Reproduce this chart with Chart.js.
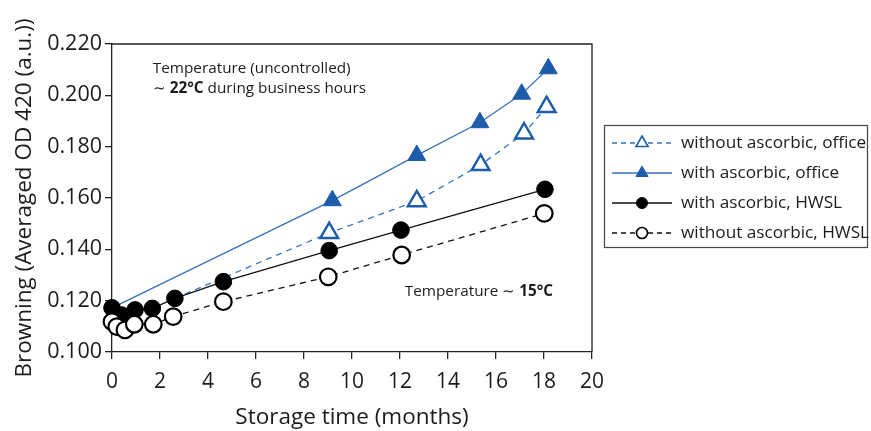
<!DOCTYPE html>
<html>
<head>
<meta charset="utf-8">
<script src="https://cdn.jsdelivr.net/npm/chart.js@4.4.1/dist/chart.umd.min.js"></script>
<style>
  html, body { margin: 0; padding: 0; background: #fff; }
  #wrap { width: 871px; height: 431px; position: relative; }
</style>
</head>
<body>
<div id="wrap"><canvas id="chart" width="871" height="431"></canvas></div>
<script>
// Browning of stored samples, averaged OD at 420 nm, over storage time
const FONT = '"Open Sans", "Noto Sans", sans-serif';
const TEXT = '#1c1c1c';
const BLUE_MARK = '#1d5ca9';
const BLUE_LINE = '#3472bd';

const seriesLabels = [
  'without ascorbic, office',
  'with ascorbic, office',
  'with ascorbic, HWSL',
  'without ascorbic, HWSL'
];

// office storage, no ascorbic (open triangles)
const officeWithoutMonths = [2.62, 9.05, 12.7, 15.36, 17.17, 18.11];
const officeWithoutOD     = [0.1209, 0.1464, 0.1588, 0.1729, 0.1852, 0.1955];

// office storage, with ascorbic (filled triangles)
const officeWithMonths = [0, 9.18, 12.7, 15.33, 17.07, 18.18];
const officeWithOD     = [0.1172, 0.1590, 0.1766, 0.1894, 0.2005, 0.2104];

// HWSL storage, with ascorbic (filled circles)
const hwslWithMonths = [0, 0.4, 0.96, 1.68, 2.62, 4.64, 9.05, 12.04, 18.04];
const hwslWithOD     = [0.1172, 0.1144, 0.1164, 0.1170, 0.1209, 0.1274, 0.1395, 0.1475, 0.1634];

// HWSL storage, no ascorbic (open circles)
const hwslWithoutMonths = [0, 0.2, 0.54, 0.93, 1.72, 2.55, 4.64, 9.01, 12.07, 18.01];
const hwslWithoutOD     = [0.1118, 0.1099, 0.1086, 0.1108, 0.1108, 0.1138, 0.1196, 0.1293, 0.1378, 0.1540];

const xTicks = [0, 2, 4, 6, 8, 10, 12, 14, 16, 18, 20];
const yTicks = [0.100, 0.120, 0.140, 0.160, 0.180, 0.200, 0.220];

const pairs = (xs, ys) => xs.map((x, i) => ({ x, y: ys[i] }));

// the first point of each office series only anchors its line
const hideFirst = (xs, r) => xs.map((_, i) => (i === 0 ? 0 : r));

const datasets = [
  {
    label: seriesLabels[3],
    data: pairs(hwslWithoutMonths, hwslWithoutOD),
    borderColor: '#111', borderWidth: 1.3, borderDash: [6, 5],
    pointStyle: 'circle', pointRadius: 8.3, pointBorderWidth: 2.2,
    pointBackgroundColor: '#fff', pointBorderColor: '#000',
    legendRadius: 5.5, order: 0
  },
  {
    label: seriesLabels[2],
    data: pairs(hwslWithMonths, hwslWithOD),
    borderColor: '#111', borderWidth: 1.3, borderDash: [],
    pointStyle: 'circle', pointRadius: 8.3, pointBorderWidth: 1,
    pointBackgroundColor: '#000', pointBorderColor: '#000',
    legendRadius: 5.5, order: 1
  },
  {
    label: seriesLabels[1],
    data: pairs(officeWithMonths, officeWithOD),
    borderColor: BLUE_LINE, borderWidth: 1.3, borderDash: [],
    pointStyle: 'triangle', pointRadius: hideFirst(officeWithMonths, 10.3), pointBorderWidth: 1,
    pointBackgroundColor: BLUE_MARK, pointBorderColor: BLUE_MARK,
    legendRadius: 7, order: 2
  },
  {
    label: seriesLabels[0],
    data: pairs(officeWithoutMonths, officeWithoutOD),
    borderColor: BLUE_LINE, borderWidth: 1.3, borderDash: [6, 5],
    pointStyle: 'triangle', pointRadius: hideFirst(officeWithoutMonths, 10.3), pointBorderWidth: 2.4,
    pointBackgroundColor: '#fff', pointBorderColor: BLUE_MARK,
    legendRadius: 7, order: 3
  }
];
datasets.forEach(d => { d.showLine = true; d.fill = false; d.tension = 0; d.clip = false; d.pointHoverRadius = d.pointRadius; });

// top/right frame of the plot area
const framePlugin = {
  id: 'frame',
  beforeDatasetsDraw(chart) {
    const { ctx, chartArea: a } = chart;
    ctx.save();
    ctx.strokeStyle = '#222';
    ctx.lineWidth = 1.3;
    ctx.beginPath();
    ctx.moveTo(a.left, a.top);
    ctx.lineTo(a.right, a.top);
    ctx.lineTo(a.right, a.bottom);
    ctx.stroke();
    ctx.restore();
  }
};

// draws a run of [text, bold] pieces starting at x
function drawRuns(ctx, runs, x, y, size) {
  let cx = x;
  runs.forEach(([t, bold]) => {
    ctx.font = (bold ? '700 ' : '400 ') + size + 'px ' + FONT;
    ctx.fillText(t, cx, y);
    cx += ctx.measureText(t).width;
  });
}

const notesPlugin = {
  id: 'notes',
  afterDraw(chart) {
    const { ctx, scales: { x, y } } = chart;
    ctx.save();
    ctx.fillStyle = TEXT;
    ctx.textBaseline = 'middle';
    ctx.textAlign = 'left';
    drawRuns(ctx, [['Temperature (uncontrolled)', false]], x.getPixelForValue(1.7), y.getPixelForValue(0.2103), 15.3);
    drawRuns(ctx, [['\u223C ', false], ['22\u00B0C', true], [' during business hours', false]],
      x.getPixelForValue(1.7), y.getPixelForValue(0.2025), 15.3);
    drawRuns(ctx, [['Temperature \u223C ', false], ['15\u00B0C', true]],
      x.getPixelForValue(12.2), y.getPixelForValue(0.1236), 15.3);
    ctx.restore();
  }
};

// boxed legend with line + marker samples
const legendPlugin = {
  id: 'boxLegend',
  afterDraw(chart) {
    const { ctx } = chart;
    const box = { x: 604.5, y: 125.5, w: 263, h: 122 };
    const rows = [143, 173, 203, 233];
    const order = [3, 2, 1, 0]; // dataset indices in legend order
    ctx.save();
    ctx.strokeStyle = '#444';
    ctx.lineWidth = 1.2;
    ctx.strokeRect(box.x, box.y, box.w, box.h);
    order.forEach((di, r) => {
      const d = chart.data.datasets[di];
      const yy = rows[r];
      ctx.save();
      ctx.strokeStyle = d.borderColor;
      ctx.lineWidth = 1.3;
      ctx.setLineDash(d.borderDash.length ? [5, 4] : []);
      ctx.beginPath();
      ctx.moveTo(612, yy);
      ctx.lineTo(672, yy);
      ctx.stroke();
      ctx.restore();
      ctx.save();
      ctx.fillStyle = d.pointBackgroundColor;
      ctx.strokeStyle = d.pointBorderColor;
      ctx.lineWidth = d.pointBorderWidth > 1.5 ? 1.6 : 1;
      Chart.helpers.drawPoint(ctx, { pointStyle: d.pointStyle, radius: d.legendRadius, borderWidth: ctx.lineWidth, rotation: 0 }, 642, yy);
      ctx.restore();
      ctx.fillStyle = TEXT;
      ctx.font = '400 17.2px ' + FONT;
      ctx.textBaseline = 'middle';
      ctx.textAlign = 'left';
      ctx.fillText(d.label, 681, yy);
    });
    ctx.restore();
  }
};

new Chart(document.getElementById('chart'), {
  type: 'scatter',
  data: { datasets },
  options: {
    responsive: false,
    animation: false,
    devicePixelRatio: 1,
    layout: { padding: { top: 44, right: 279, left: 0, bottom: 0 } },
    plugins: { legend: { display: false }, tooltip: { enabled: false } },
    scales: {
      x: {
        type: 'linear', min: 0, max: 20,
        afterBuildTicks: s => { s.ticks = xTicks.map(v => ({ value: v })); },
        afterFit: s => { s.height = 79; },
        ticks: { color: TEXT, font: { family: FONT, size: 21 }, padding: 10, maxRotation: 0 },
        grid: { drawOnChartArea: false, color: '#222', lineWidth: 1.3, tickLength: 7 },
        border: { color: '#222', width: 1.3 },
        title: { display: true, text: 'Storage time (months)', color: TEXT, font: { family: FONT, size: 22.5 }, padding: { top: 0, bottom: 0 } }
      },
      y: {
        type: 'linear', min: 0.1, max: 0.22,
        afterBuildTicks: s => { s.ticks = yTicks.map(v => ({ value: v })); },
        afterFit: s => { s.width = 112; },
        ticks: { color: TEXT, font: { family: FONT, size: 21.5 }, padding: 3, callback: v => Number(v).toFixed(3) },
        grid: { drawOnChartArea: false, color: '#222', lineWidth: 1.3, tickLength: 7 },
        border: { color: '#222', width: 1.3 },
        title: { display: true, text: 'Browning (Averaged OD 420 (a.u.))', color: TEXT, font: { family: FONT, size: 22.5 }, padding: { top: 11, bottom: 0 } }
      }
    }
  },
  plugins: [framePlugin, notesPlugin, legendPlugin]
});
</script>
</body>
</html>
